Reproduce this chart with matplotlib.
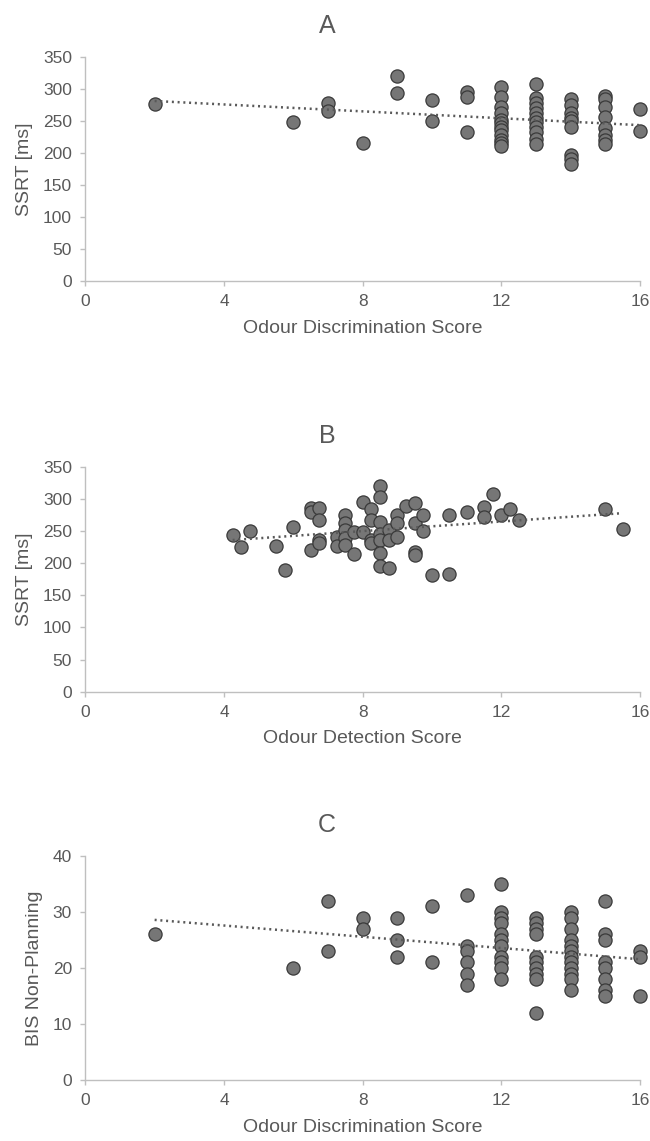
import numpy as np
import matplotlib
matplotlib.use("Agg")
import matplotlib.pyplot as plt

plt.rcParams['font.family'] = ['Liberation Sans', 'DejaVu Sans']

TEXT = '#595959'
GRID = '#BFBFBF'

# ---------------- Panel A: SSRT vs Odour Discrimination ----------------
a_x = ([2, 6, 7, 7, 8, 9, 9, 10, 10, 11, 11, 11]
       + [12] * 12 + [13] * 11 + [14] * 9 + [15] * 8 + [16] * 2)
a_y = ([276, 248, 278, 266, 215, 320, 294, 282, 250, 295, 287, 232]
       + [303, 287, 272, 262, 252, 247, 240, 235, 228, 220, 215, 210]
       + [308, 286, 278, 270, 262, 255, 248, 240, 232, 222, 213]
       + [284, 275, 262, 255, 250, 240, 197, 190, 183]
       + [288, 284, 272, 256, 238, 228, 220, 213]
       + [268, 234])

# ---------------- Panel B: SSRT vs Odour Detection ----------------
b_x = [4.25, 4.5, 4.75, 5.5, 5.75, 6.0, 6.5, 6.5, 6.75, 6.75, 6.5, 6.75, 6.75,
       7.25, 7.25, 7.5, 7.5, 7.5, 7.5, 7.5, 7.75, 7.75, 8.0, 8.0,
       8.25, 8.25, 8.25, 8.25, 8.5, 8.5, 8.5, 8.5, 8.5, 8.5, 8.5,
       8.75, 8.75, 8.75, 9.0, 9.0, 9.0, 9.25, 9.5, 9.5, 9.5, 9.5,
       9.75, 9.75, 10.0, 10.5, 10.5, 11.0, 11.5, 11.5, 11.75, 12.0,
       12.25, 12.5, 15.0, 15.5]
b_y = [243, 225, 250, 227, 190, 256, 285, 280, 285, 267, 221, 236, 231,
       240, 227, 275, 262, 251, 239, 228, 249, 214, 295, 249,
       284, 267, 236, 231, 320, 303, 264, 246, 236, 216, 196,
       251, 236, 192, 275, 263, 240, 289, 294, 263, 218, 212,
       275, 250, 181, 275, 183, 280, 287, 272, 307, 275,
       284, 267, 284, 253]

# ---------------- Panel C: BIS Non-Planning vs Odour Discrimination ----------------
c_x = ([2, 6, 7, 7, 8, 8, 9, 9, 9, 10, 10]
       + [11] * 6 + [12] * 11 + [13] * 10 + [14] * 12 + [15] * 8 + [16] * 3)
c_y = ([26, 20, 32, 23, 29, 27, 29, 25, 22, 31, 21]
       + [33, 24, 23, 21, 19, 17]
       + [35, 30, 29, 28, 26, 25, 24, 22, 21, 20, 18]
       + [29, 28, 27, 26, 22, 21, 20, 19, 18, 12]
       + [30, 29, 27, 25, 24, 23, 22, 21, 20, 19, 18, 16]
       + [32, 26, 25, 21, 20, 18, 16, 15]
       + [23, 22, 15])

panels = [
    dict(title='A', x=a_x, y=a_y, xlabel='Odour Discrimination Score',
         ylabel='SSRT [ms]', ylim=350, ystep=50, top=56.7, bottom=281.0, ylx=-0.0943),
    dict(title='B', x=b_x, y=b_y, xlabel='Odour Detection Score',
         ylabel='SSRT [ms]', ylim=350, ystep=50, top=466.7, bottom=691.7, ylx=-0.0943),
    dict(title='C', x=c_x, y=c_y, xlabel='Odour Discrimination Score',
         ylabel='BIS Non-Planning', ylim=40, ystep=10, top=856.0, bottom=1080.0, ylx=-0.0763),
]

W, H = 650, 1141
fig = plt.figure(figsize=(W / 100, H / 100), dpi=100)
left_px, right_px = 85.3, 640.0

for p in panels:
    ax = fig.add_axes([left_px / W, 1 - p['bottom'] / H,
                       (right_px - left_px) / W, (p['bottom'] - p['top']) / H])
    x = np.array(p['x'], dtype=float)
    y = np.array(p['y'], dtype=float)
    ax.scatter(x, y, s=90, facecolor='#767676', edgecolor='#3a3a3a',
               linewidths=0.9, zorder=2, clip_on=False)
    k, b = np.polyfit(x, y, 1)
    xx = np.array([x.min(), x.max()])
    ax.plot(xx, k * xx + b, color='#595959', lw=1.8,
            linestyle=(0, (0.8, 1.5)), zorder=3)

    ax.set_xlim(0, 16)
    ax.set_ylim(0, p['ylim'])
    ax.set_xticks([0, 4, 8, 12, 16])
    ax.set_yticks(np.arange(0, p['ylim'] + 1, p['ystep']))
    for s in ['top', 'right']:
        ax.spines[s].set_visible(False)
    for s in ['left', 'bottom']:
        ax.spines[s].set_color(GRID)
        ax.spines[s].set_linewidth(1.0)
    ax.tick_params(axis='both', colors=GRID, labelcolor=TEXT, labelsize=12.5,
                   direction='out', length=3.5, width=1.0)
    ax.tick_params(axis='y', pad=6)
    ax.tick_params(axis='x', pad=6)
    ax.set_xlabel(p['xlabel'], fontsize=14, color=TEXT)
    ax.set_ylabel(p['ylabel'], fontsize=14, color=TEXT)
    ax.xaxis.set_label_coords(0.5, -0.172)
    ax.yaxis.set_label_coords(p['ylx'], 0.5)
    fig.text(327 / W, 1 - (p['top'] - 30.5) / H, p['title'], ha='center',
             va='center', fontsize=18, color=TEXT)

fig.savefig('out.png', dpi=100)
